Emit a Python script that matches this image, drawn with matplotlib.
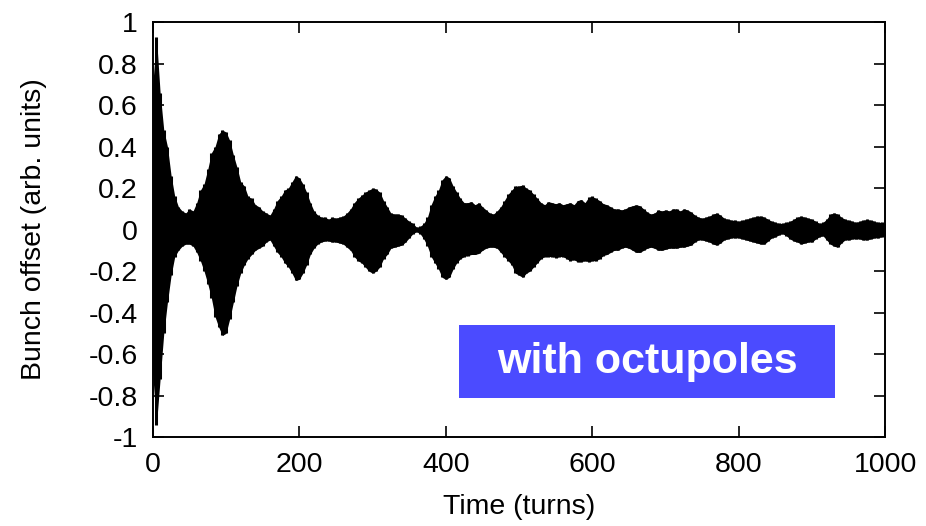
import numpy as np
import matplotlib.pyplot as plt
from matplotlib.patches import Rectangle

plt.rcParams['font.family'] = ['Liberation Sans', 'DejaVu Sans']

# turn number of each sample (every 5 turns)
turns = np.arange(0, 1001, 5)

# upper envelope of the bunch offset
upper = [0.70, 0.93, 0.66, 0.48, 0.40, 0.26, 0.16, 0.11, 0.09, 0.08,
         0.10, 0.09, 0.13, 0.19, 0.22, 0.29, 0.37, 0.40, 0.46, 0.48,
         0.47, 0.43, 0.36, 0.30, 0.23, 0.21, 0.16, 0.15, 0.12, 0.11,
         0.09, 0.08, 0.07, 0.10, 0.14, 0.16, 0.19, 0.20, 0.23, 0.26,
         0.25, 0.22, 0.18, 0.13, 0.09, 0.07, 0.06, 0.06, 0.05, 0.06,
         0.055, 0.06, 0.065, 0.08, 0.10, 0.13, 0.15, 0.165, 0.18, 0.19,
         0.20, 0.195, 0.18, 0.14, 0.11, 0.08, 0.075, 0.075, 0.07, 0.055,
         0.04, 0.03, 0.012, 0.015, 0.03, 0.06, 0.12, 0.16, 0.19, 0.24,
         0.26, 0.25, 0.21, 0.18, 0.15, 0.13, 0.13, 0.135, 0.12, 0.13,
         0.11, 0.095, 0.08, 0.075, 0.09, 0.11, 0.14, 0.17, 0.19, 0.21,
         0.21, 0.215, 0.20, 0.19, 0.17, 0.15, 0.13, 0.12, 0.135, 0.13,
         0.125, 0.13, 0.12, 0.125, 0.13, 0.12, 0.14, 0.145, 0.13, 0.155,
         0.16, 0.15, 0.14, 0.125, 0.12, 0.11, 0.10, 0.10, 0.095, 0.10,
         0.11, 0.115, 0.12, 0.115, 0.10, 0.085, 0.075, 0.08, 0.095, 0.09,
         0.095, 0.09, 0.10, 0.10, 0.09, 0.10, 0.095, 0.085, 0.07, 0.06,
         0.055, 0.06, 0.065, 0.075, 0.08, 0.07, 0.055, 0.05, 0.045, 0.045,
         0.04, 0.045, 0.05, 0.055, 0.06, 0.065, 0.065, 0.06, 0.05, 0.04,
         0.035, 0.03, 0.03, 0.035, 0.04, 0.05, 0.06, 0.065, 0.06, 0.055,
         0.05, 0.04, 0.03, 0.035, 0.05, 0.075, 0.08, 0.075, 0.06, 0.05,
         0.045, 0.04, 0.035, 0.04, 0.045, 0.05, 0.045, 0.04, 0.035, 0.035,
         0.03]

# lower envelope
lower = [-0.70, -0.94, -0.72, -0.50, -0.35, -0.22, -0.13, -0.10, -0.08, -0.07,
         -0.07, -0.08, -0.11, -0.15, -0.20, -0.26, -0.33, -0.42, -0.47, -0.51,
         -0.50, -0.43, -0.35, -0.27, -0.21, -0.17, -0.14, -0.12, -0.10, -0.09,
         -0.08, -0.06, -0.05, -0.08, -0.11, -0.13, -0.16, -0.18, -0.21, -0.245,
         -0.24, -0.21, -0.17, -0.12, -0.09, -0.07, -0.06, -0.055, -0.055, -0.06,
         -0.06, -0.065, -0.07, -0.085, -0.10, -0.13, -0.15, -0.16, -0.18, -0.20,
         -0.21, -0.20, -0.18, -0.14, -0.12, -0.09, -0.085, -0.08, -0.075, -0.06,
         -0.04, -0.02, -0.01, -0.02, -0.045, -0.08, -0.13, -0.16, -0.19, -0.23,
         -0.24, -0.23, -0.19, -0.16, -0.14, -0.13, -0.125, -0.12, -0.12, -0.115,
         -0.10, -0.09, -0.085, -0.085, -0.09, -0.11, -0.13, -0.15, -0.17, -0.21,
         -0.22, -0.23, -0.21, -0.20, -0.18, -0.16, -0.14, -0.13, -0.13, -0.13,
         -0.135, -0.13, -0.13, -0.14, -0.15, -0.145, -0.155, -0.155, -0.15, -0.155,
         -0.15, -0.15, -0.14, -0.125, -0.12, -0.11, -0.10, -0.10, -0.09, -0.085,
         -0.09, -0.10, -0.11, -0.11, -0.10, -0.09, -0.085, -0.09, -0.10, -0.10,
         -0.095, -0.09, -0.09, -0.09, -0.085, -0.085, -0.08, -0.075, -0.06, -0.05,
         -0.05, -0.055, -0.06, -0.07, -0.075, -0.065, -0.05, -0.045, -0.04, -0.04,
         -0.04, -0.045, -0.05, -0.055, -0.06, -0.065, -0.07, -0.07, -0.055, -0.04,
         -0.035, -0.025, -0.02, -0.03, -0.045, -0.055, -0.06, -0.07, -0.065, -0.06,
         -0.06, -0.045, -0.035, -0.03, -0.05, -0.07, -0.08, -0.085, -0.065, -0.05,
         -0.05, -0.045, -0.045, -0.045, -0.05, -0.05, -0.045, -0.04, -0.04, -0.035,
         -0.03]

x_ticks = [0, 200, 400, 600, 800, 1000]
y_ticks = [-1, -0.8, -0.6, -0.4, -0.2, 0, 0.2, 0.4, 0.6, 0.8, 1]
y_labels = ['-1', '-0.8', '-0.6', '-0.4', '-0.2', '0', '0.2', '0.4', '0.6', '0.8', '1']

fig = plt.figure(figsize=(9.26, 5.26), dpi=100)
ax = fig.add_axes([0.165, 0.169, 0.791, 0.789])

ax.fill_between(turns, lower, upper, color='black', lw=0)
ax.vlines(turns, lower, upper, color='black', lw=2.2)

ax.set_xlim(0, 1000)
ax.set_ylim(-1, 1)
ax.set_xticks(x_ticks)
ax.set_yticks(y_ticks)
ax.set_yticklabels(y_labels)
ax.tick_params(direction='in', length=8, width=1.2, top=True, right=True,
               labelsize=20.5, pad=11)
for s in ax.spines.values():
    s.set_linewidth(1.4)

ax.set_xlabel('Time (turns)', fontsize=20.5, labelpad=11)
ax.set_ylabel('Bunch offset (arb. units)', fontsize=20.5, labelpad=30)

ax.add_patch(Rectangle((0.418, 0.094), 0.514, 0.176, transform=ax.transAxes,
                       facecolor='#4b4bff', edgecolor='none', zorder=3))
ax.text(0.675, 0.182, 'with octupoles', transform=ax.transAxes, color='white',
        fontsize=31, fontweight='bold', ha='center', va='center', zorder=4)

fig.savefig('out.png', dpi=100)
